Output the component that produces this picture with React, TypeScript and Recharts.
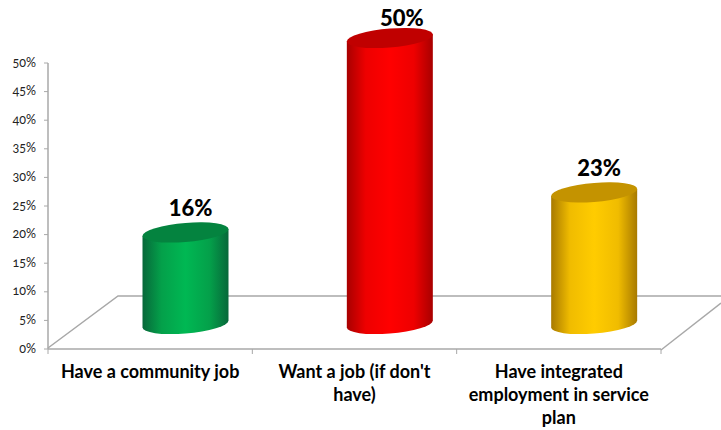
import React from "react";
import { BarChart, Bar, XAxis, YAxis, LabelList, Cell, Text } from "recharts";

const categories = ["Have a community job", "Want a job (if don't have)", "Have integrated employment in service plan"];
const shares = [16, 50, 23];
const yTicks = [0, 5, 10, 15, 20, 25, 30, 35, 40, 45, 50];
const bodyCenters = ["#00b853", "#ff0000", "#ffcc00"];
const bodyMids = ["#04a04a", "#ee0000", "#f0bc00"];
const bodyEdges = ["#07683a", "#a80000", "#a87a00"];
const capFills = ["#04833f", "#c00000", "#c49300"];

const rows = categories.map((name, i) => ({ name, share: shares[i] }));

const W = 721;
const H = 430;
const PLOT = { left: 48, right: 661, top: 63, bottom: 349 };
// The cylinders stand back on the floor, so they sit up and to the right of their slots.
const DEPTH_X = 35.5;
const DEPTH_Y = 25;
const CAP_RY = 9.5;
const TILT = -0.081;
const GREY = "#a8a8a8";
const FONT = "Lato, 'Open Sans', sans-serif";

const Cylinder = (props: any) => {
  const { x, y, width, height, index } = props;
  const r = width / 2;
  const cx = x + r + DEPTH_X;
  const top = y - DEPTH_Y;
  return (
    <g transform={`matrix(1 ${TILT} 0 1 ${cx} ${top})`}>
      <path
        d={`M ${-r} 0 L ${-r} ${height} A ${r} ${CAP_RY} 0 0 0 ${r} ${height} L ${r} 0 Z`}
        fill={`url(#body-${index})`}
      />
      <ellipse cx={0} cy={0} rx={r} ry={CAP_RY} fill={capFills[index]} />
    </g>
  );
};

const ValueLabel = (props: any) => {
  const { x, y, width, value, index } = props;
  const nudgeX = index === 1 ? 12 : 5;
  const nudgeY = index === 1 ? 4 : 0;
  return (
    <text
      x={x + width / 2 + DEPTH_X + nudgeX}
      y={y - DEPTH_Y - 25 + nudgeY}
      textAnchor="middle"
      dominantBaseline="central"
      fontFamily={FONT}
      fontWeight={900}
      fontSize={22}
      fill="#000"
    >
      {value}%
    </text>
  );
};

const tickStyle = { fontFamily: FONT, fontWeight: 700, fontSize: 18 };

const CategoryTick = (props: any) => {
  const { x, payload } = props;
  return (
    <Text
      x={x}
      y={365}
      width={175}
      textAnchor="middle"
      verticalAnchor="start"
      lineHeight={23}
      style={tickStyle}
      fill="#000"
    >
      {payload.value}
    </Text>
  );
};

const ShareTick = (props: any) => {
  const { x, y, payload } = props;
  return (
    <text
      x={x}
      y={y - 1}
      textAnchor="end"
      dominantBaseline="central"
      fontFamily={FONT}
      fontSize={12.5}
      fill="#222"
      style={{ fontFeatureSettings: "'onum'" }}
    >
      {payload.value}%
    </text>
  );
};

export default function App() {
  return (
    <div style={{ position: "absolute", left: 0, top: 0, width: W, height: H, background: "#fff" }}>
      <BarChart
        width={W}
        height={H}
        data={rows}
        margin={{ top: PLOT.top, right: W - PLOT.right, bottom: 0, left: 0 }}
        style={{ overflow: "visible" }}
      >
        <defs>
          {bodyCenters.map((c, i) => (
            <linearGradient key={c} id={`body-${i}`} x1="0" y1="0" x2="1" y2="0">
              <stop offset="0%" stopColor={bodyEdges[i]} />
              <stop offset="22%" stopColor={bodyMids[i]} />
              <stop offset="50%" stopColor={c} />
              <stop offset="78%" stopColor={bodyMids[i]} />
              <stop offset="100%" stopColor={bodyEdges[i]} />
            </linearGradient>
          ))}
        </defs>
        {/* Floor of the 3D plot, behind the cylinders */}
        <g stroke={GREY} strokeWidth={1.5} fill="none">
          <path d={`M ${PLOT.left} ${PLOT.bottom - 1} L 118 296 L ${W} 296`} />
          <path d={`M ${PLOT.right} ${PLOT.bottom + 1} L ${W} 303`} />
        </g>
        <YAxis
          width={PLOT.left}
          domain={[0, 50]}
          ticks={yTicks}
          interval={0}
          tick={<ShareTick />}
          tickLine={{ stroke: GREY }}
          tickSize={4}
          tickMargin={8}
          axisLine={{ stroke: GREY, strokeWidth: 1.5 }}
        />
        <XAxis
          dataKey="name"
          height={H - PLOT.bottom}
          interval={0}
          tick={<CategoryTick />}
          tickLine={false}
          axisLine={{ stroke: GREY, strokeWidth: 1.5 }}
        />
        <Bar dataKey="share" barSize={86} shape={<Cylinder />} isAnimationActive={false}>
          {rows.map((r, i) => (
            <Cell key={r.name} fill={bodyCenters[i]} />
          ))}
          <LabelList dataKey="share" content={<ValueLabel />} />
        </Bar>
        {/* Slot dividers under the category axis */}
        <g stroke={GREY} strokeWidth={1}>
          {[0, 1, 2, 3].map((k) => {
            const tx = PLOT.left + (k * (PLOT.right - PLOT.left)) / 3;
            return <line key={k} x1={tx} x2={tx} y1={PLOT.bottom} y2={PLOT.bottom + 5} />;
          })}
        </g>
      </BarChart>
    </div>
  );
}
